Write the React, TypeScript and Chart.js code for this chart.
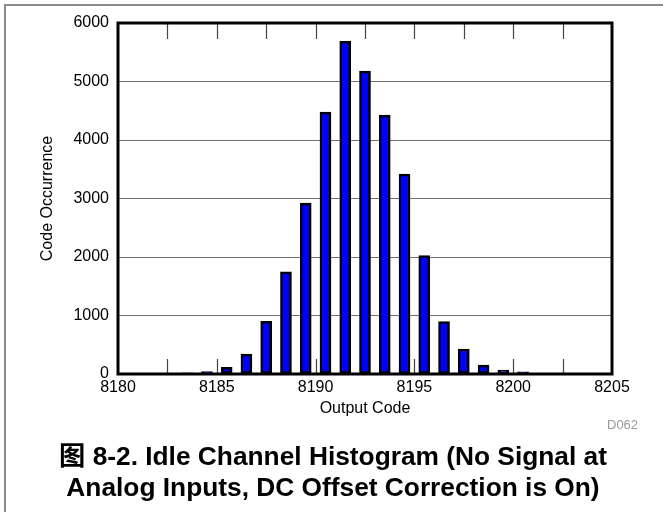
import React, { useEffect, useRef } from "react";
import { Chart, registerables } from "chart.js";

Chart.register(...registerables);

// Histogram bins (lower edge of each output code bin) and occurrences
const codes: number[] = [
  8180, 8181, 8182, 8183, 8184, 8185, 8186, 8187, 8188, 8189, 8190, 8191, 8192,
  8193, 8194, 8195, 8196, 8197, 8198, 8199, 8200, 8201, 8202, 8203, 8204,
];
const counts: number[] = [
  0, 0, 3, 20, 40, 115, 340, 900, 1745, 2920, 4476, 5688, 5176,
  4425, 3418, 2025, 898, 427, 153, 68, 35, 10, 5, 0, 0,
];
const xMin = 8180;
const xMax = 8205;
const xStep = 2.5;
const yMin = 0;
const yMax = 6000;
const yStep = 1000;

const xTitle = "Output Code";
const yTitle = "Code Occurrence";
const docId = "D062";
const captionLine1 = "图 8-2. Idle Channel Histogram (No Signal at";
const captionLine2 = "Analog Inputs, DC Offset Correction is On)";

const FONT = '"Liberation Sans", Arial, Helvetica, "Noto Sans CJK SC", sans-serif';

const framePlugin = {
  id: "frameTicks",
  beforeDatasetsDraw(chart: any) {
    const { ctx, chartArea, scales } = chart;
    const xs = scales.x;
    ctx.save();
    ctx.strokeStyle = "#444";
    ctx.lineWidth = 1.2;
    xs.ticks.forEach((t: any) => {
      const v = t.value;
      if (v <= xMin || v >= xMax) return;
      const px = Math.round(xs.getPixelForValue(v)) + 0.5;
      ctx.beginPath();
      ctx.moveTo(px, chartArea.bottom);
      ctx.lineTo(px, chartArea.bottom - 15);
      ctx.moveTo(px, chartArea.top);
      ctx.lineTo(px, chartArea.top + 16);
      ctx.stroke();
    });
    ctx.restore();
  },
  afterDatasetsDraw(chart: any) {
    const { ctx, chartArea } = chart;
    ctx.save();
    ctx.strokeStyle = "#000";
    ctx.lineWidth = 3;
    ctx.strokeRect(
      chartArea.left,
      chartArea.top,
      chartArea.right - chartArea.left,
      chartArea.bottom - chartArea.top
    );
    ctx.restore();
  },
};

export default function App() {
  const ref = useRef<HTMLCanvasElement | null>(null);

  useEffect(() => {
    if (!ref.current) return;
    const data = codes.map((c, i) => ({ x: c + 0.5, y: counts[i] }));
    const chart = new Chart(ref.current, {
      type: "bar",
      data: {
        datasets: [
          {
            data: data as any,
            backgroundColor: "#0000FF",
            borderColor: "#000000",
            borderWidth: 2.5,
            borderSkipped: false,
            barThickness: 11,
          },
        ],
      },
      options: {
        animation: false,
        responsive: false,
        devicePixelRatio: 1,
        layout: { padding: { left: 0, right: 51, top: 23, bottom: 0 } },
        plugins: { legend: { display: false }, tooltip: { enabled: false } },
        scales: {
          x: {
            type: "linear",
            min: xMin,
            max: xMax,
            offset: false,
            grid: { display: false, drawTicks: false },
            border: { display: false },
            ticks: {
              stepSize: xStep,
              autoSkip: false,
              maxRotation: 0,
              padding: 4,
              color: "#000",
              font: { family: FONT, size: 16 },
              callback: (v: any) => (Number(v) % 5 === 0 ? String(v) : ""),
            },
            title: {
              display: true,
              text: xTitle,
              color: "#000",
              font: { family: FONT, size: 16 },
              padding: { top: 0, bottom: 94 },
            },
            afterFit: (s: any) => {
              s.height = 138;
            },
          },
          y: {
            min: yMin,
            max: yMax,
            grid: { color: "#707070", lineWidth: 1, drawTicks: false },
            border: { display: false },
            ticks: {
              stepSize: yStep,
              padding: 9,
              color: "#000",
              font: { family: FONT, size: 16 },
              callback: (v: any) => String(v),
            },
            title: {
              display: true,
              text: yTitle,
              color: "#000",
              font: { family: FONT, size: 16 },
              padding: { top: 38, bottom: 0 },
            },
            afterFit: (s: any) => {
              s.width = 118;
            },
          },
        },
      },
      plugins: [framePlugin],
    });
    return () => chart.destroy();
  }, []);

  return (
    <div
      style={{
        position: "absolute",
        left: 0,
        top: 0,
        width: 663,
        height: 512,
        background: "#fff",
        overflow: "hidden",
        fontFamily: FONT,
      }}
    >
      <div
        style={{
          position: "absolute",
          left: 4,
          top: 4,
          width: 670,
          height: 520,
          borderLeft: "2px solid #8a8a8a",
          borderTop: "2px solid #8a8a8a",
        }}
      />
      <canvas
        ref={ref}
        width={663}
        height={512}
        style={{ position: "absolute", left: 0, top: 0, width: 663, height: 512 }}
      />
      <div
        style={{
          position: "absolute",
          left: 607,
          top: 417,
          fontSize: 13,
          lineHeight: "16px",
          color: "#9a9a9a",
        }}
      >
        {docId}
      </div>
      <div
        style={{
          position: "absolute",
          left: 0,
          width: 666,
          top: 441,
          textAlign: "center",
          fontWeight: "bold",
          fontSize: 26.3,
          lineHeight: "31px",
          color: "#000",
          whiteSpace: "nowrap",
        }}
      >
        <div>{captionLine1}</div>
        <div>{captionLine2}</div>
      </div>
    </div>
  );
}
